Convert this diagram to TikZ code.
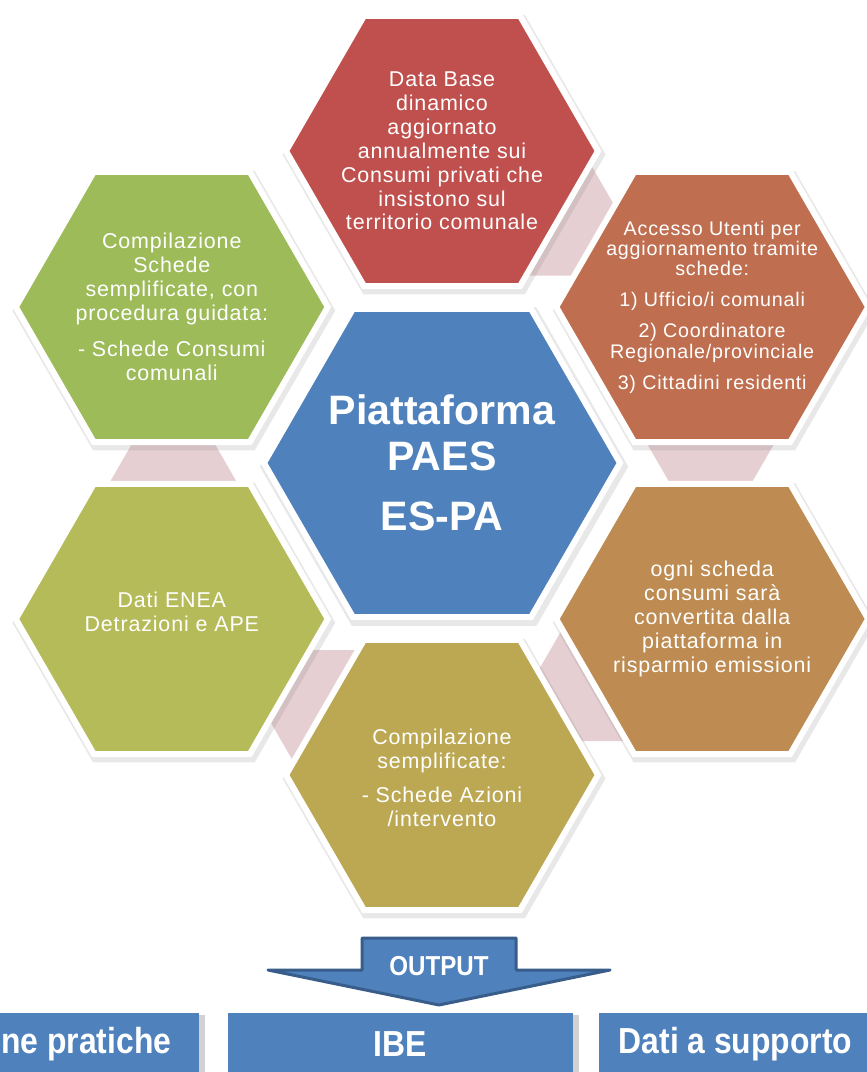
\documentclass[tikz,border=0pt]{standalone}
\usepackage{fontspec}
\setmainfont{Liberation Sans}
\newfontfamily\hexfont{Liberation Sans}[LetterSpace=4]
\newfontfamily\boxfont{Liberation Sans}[FakeStretch=0.88]
\usetikzlibrary{shapes.geometric,shadows}
\definecolor{hexred}{RGB}{192,80,77}
\definecolor{hexorange}{RGB}{191,111,80}
\definecolor{hexbrown}{RGB}{190,140,82}
\definecolor{hexolive}{RGB}{188,168,83}
\definecolor{hexlime}{RGB}{181,187,89}
\definecolor{hexgreen}{RGB}{157,187,89}
\definecolor{hexblue}{RGB}{79,129,189}
\definecolor{linkpink}{RGB}{230,207,210}
\definecolor{arrowblue}{RGB}{56,93,138}
\begin{document}
\begin{tikzpicture}[
  hexa/.style={regular polygon, regular polygon sides=6, minimum size=3.12cm, inner sep=0pt, draw=white, line width=0.06cm,
    drop shadow={opacity=0.18, shadow scale=1.035, shadow xshift=0.02cm, shadow yshift=-0.035cm}},
  link/.style={regular polygon, regular polygon sides=6, minimum size=1.54cm, inner sep=0pt, fill=linkpink},
  txt/.style={text=white, align=center, font=\hexfont\fontsize{6.1}{6.8}\selectfont},
  boxtxt/.style={text=white, inner sep=0pt, font=\boxfont\fontsize{10.3}{11}\selectfont\bfseries},
  outbox/.style={fill=hexblue, minimum height=0.62cm, minimum width=3.45cm, inner sep=0pt, boxtxt,
    drop shadow={opacity=0.35, shadow xshift=0.06cm, shadow yshift=-0.02cm}}]
\useasboundingbox[fill=white] (-4.42,-6.09) rectangle (4.24,4.63);
\foreach \a in {69,9,-51,-111,-171} \node[link] (link\a) at (\a:2.72) {};
\node[hexa, fill=hexred] (base) at (90:3.12) {};
\node[txt] at (base) {Data Base\\dinamico\\aggiornato\\annualmente sui\\Consumi privati che\\insistono sul\\territorio comunale};
\node[hexa, fill=hexorange] (utenti) at (30:3.12) {};
\node[txt, font=\hexfont\fontsize{5.6}{5.8}\selectfont] at (utenti) {Accesso Utenti per\\aggiornamento tramite\\schede:\\[3pt]1) Ufficio/i comunali\\[3pt]2) Coordinatore\\Regionale/provinciale\\[3pt]3) Cittadini residenti};
\node[hexa, fill=hexbrown] (scheda) at (-30:3.12) {};
\node[txt] at (scheda) {ogni scheda\\consumi sarà\\convertita dalla\\piattaforma in\\risparmio emissioni};
\node[hexa, fill=hexolive] (azioni) at (-90:3.12) {};
\node[txt] at ([yshift=-0.03cm]azioni) {Compilazione\\semplificate:\\[3pt]- Schede Azioni\\/intervento};
\node[hexa, fill=hexlime] (enea) at (-150:3.12) {};
\node[txt] at ([yshift=0.07cm]enea) {Dati ENEA\\Detrazioni e APE};
\node[hexa, fill=hexgreen] (consumi) at (150:3.12) {};
\node[txt] at (consumi) {Compilazione\\Schede\\semplificate, con\\procedura guidata:\\[3.5pt]- Schede Consumi\\comunali};
\node[hexa, fill=hexblue, minimum size=3.56cm] (paes) at (0,0) {};
\node[txt, font=\fontsize{11.7}{13.1}\selectfont\bfseries] at (paes) {Piattaforma\\PAES\\[4pt]ES-PA};
\draw[fill=hexblue, draw=arrowblue, line width=0.03cm, line join=round] (-0.80,-4.75) -- (0.74,-4.75) -- (0.74,-5.07) -- (1.68,-5.07) -- (-0.03,-5.42) -- (-1.74,-5.07) -- (-0.80,-5.07) -- cycle;
\node[boxtxt, font=\boxfont\fontsize{7.8}{8}\selectfont\bfseries] (output) at (-0.03,-5.03) {OUTPUT};
\node[outbox, anchor=north east] (gestione) at (-2.42,-5.49) {};
\node[boxtxt, anchor=east] (pratiche) at ([xshift=-0.28cm]gestione.east) {ne pratiche};
\node[outbox, anchor=north west] (ibe) at (-2.15,-5.49) {IBE};
\node[outbox, anchor=north west] (dati) at (1.56,-5.49) {};
\node[boxtxt, anchor=west] (supporto) at ([xshift=0.2cm]dati.west) {Dati a supporto};
\end{tikzpicture}
\end{document}
